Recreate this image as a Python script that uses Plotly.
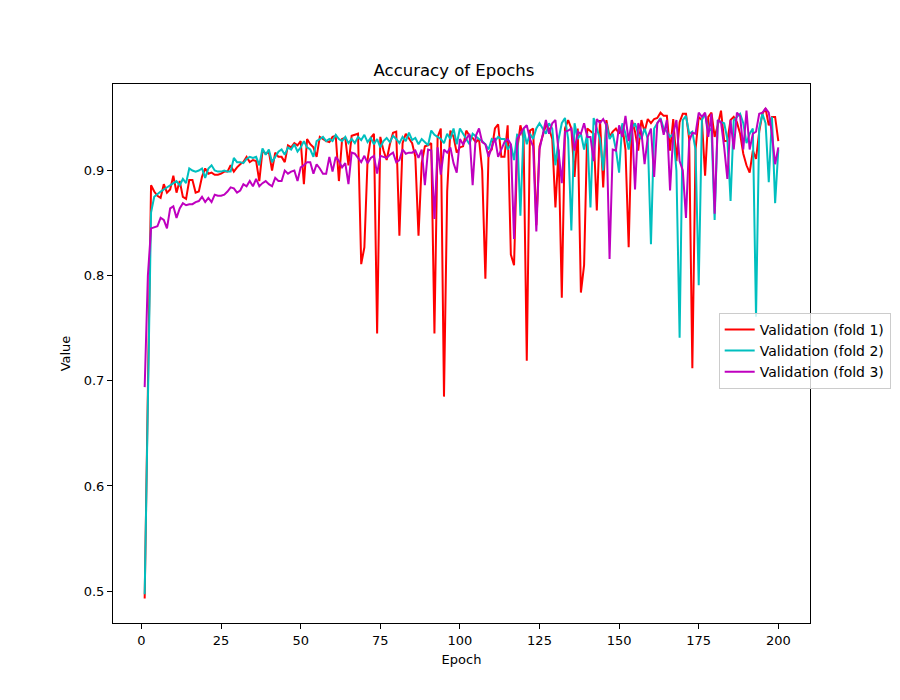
import plotly.graph_objects as go

epochs = list(range(1, 201))

fold1 = [
    0.493, 0.700, 0.886, 0.880, 0.876, 0.874, 0.887, 0.879, 0.882, 0.895,
    0.879, 0.890, 0.875, 0.873, 0.891, 0.891, 0.879, 0.880, 0.894, 0.902,
    0.897, 0.898, 0.896, 0.896, 0.897, 0.899, 0.899, 0.905, 0.899, 0.903,
    0.906, 0.908, 0.913, 0.908, 0.910, 0.909, 0.890, 0.919, 0.916, 0.918,
    0.900, 0.917, 0.913, 0.913, 0.908, 0.924, 0.922, 0.926, 0.924, 0.928,
    0.887, 0.930, 0.925, 0.922, 0.913, 0.932, 0.930, 0.928, 0.927, 0.932,
    0.933, 0.890, 0.930, 0.931, 0.905, 0.933, 0.934, 0.935, 0.811, 0.827,
    0.910, 0.931, 0.935, 0.745, 0.932, 0.919, 0.910, 0.925, 0.936, 0.937,
    0.838, 0.926, 0.935, 0.930, 0.926, 0.913, 0.838, 0.907, 0.923, 0.924,
    0.926, 0.745, 0.932, 0.940, 0.685, 0.880, 0.938, 0.932, 0.917, 0.922,
    0.923, 0.938, 0.933, 0.931, 0.927, 0.930, 0.900, 0.797, 0.917, 0.920,
    0.940, 0.944, 0.913, 0.913, 0.943, 0.820, 0.810, 0.920, 0.943, 0.930,
    0.719, 0.938, 0.940, 0.848, 0.923, 0.933, 0.943, 0.940, 0.930, 0.865,
    0.920, 0.779, 0.940, 0.948, 0.940, 0.894, 0.940, 0.784, 0.810, 0.940,
    0.937, 0.935, 0.862, 0.948, 0.884, 0.948, 0.932, 0.937, 0.940, 0.935,
    0.943, 0.920, 0.827, 0.948, 0.937, 0.919, 0.948, 0.937, 0.949, 0.945,
    0.949, 0.950, 0.955, 0.952, 0.952, 0.919, 0.949, 0.909, 0.946, 0.954,
    0.954, 0.930, 0.712, 0.920, 0.951, 0.948, 0.895, 0.951, 0.955, 0.932,
    0.943, 0.957, 0.928, 0.928, 0.948, 0.951, 0.946, 0.935, 0.916, 0.905,
    0.898, 0.919, 0.911, 0.937, 0.954, 0.959, 0.943, 0.951, 0.951, 0.928,
]

fold2 = [
    0.497, 0.700, 0.860, 0.875, 0.878, 0.880, 0.882, 0.884, 0.886, 0.888,
    0.890, 0.886, 0.892, 0.888, 0.902, 0.900, 0.899, 0.900, 0.902, 0.893,
    0.902, 0.905, 0.900, 0.899, 0.899, 0.900, 0.899, 0.899, 0.912, 0.908,
    0.908, 0.907, 0.911, 0.913, 0.912, 0.913, 0.905, 0.921, 0.915, 0.920,
    0.908, 0.913, 0.918, 0.920, 0.915, 0.922, 0.920, 0.925, 0.918, 0.922,
    0.928, 0.922, 0.920, 0.913, 0.928, 0.930, 0.932, 0.928, 0.930, 0.928,
    0.934, 0.930, 0.928, 0.932, 0.926, 0.930, 0.926, 0.932, 0.929, 0.934,
    0.927, 0.931, 0.925, 0.930, 0.922, 0.928, 0.931, 0.927, 0.933, 0.930,
    0.926, 0.932, 0.928, 0.936, 0.929, 0.931, 0.925, 0.930, 0.927, 0.924,
    0.938, 0.934, 0.932, 0.930, 0.926, 0.935, 0.930, 0.940, 0.925, 0.940,
    0.935, 0.930, 0.925, 0.935, 0.932, 0.930, 0.928, 0.925, 0.920, 0.930,
    0.928, 0.932, 0.930, 0.930, 0.920, 0.925, 0.910, 0.935, 0.857, 0.940,
    0.925, 0.935, 0.930, 0.940, 0.945, 0.940, 0.935, 0.945, 0.940, 0.905,
    0.930, 0.945, 0.950, 0.930, 0.843, 0.945, 0.930, 0.935, 0.920, 0.935,
    0.865, 0.950, 0.940, 0.930, 0.900, 0.945, 0.930, 0.935, 0.920, 0.898,
    0.945, 0.935, 0.920, 0.940, 0.945, 0.935, 0.930, 0.940, 0.930, 0.830,
    0.940, 0.945, 0.950, 0.940, 0.937, 0.932, 0.935, 0.900, 0.741, 0.948,
    0.952, 0.935, 0.937, 0.920, 0.791, 0.948, 0.954, 0.937, 0.940, 0.853,
    0.948, 0.946, 0.945, 0.930, 0.871, 0.948, 0.951, 0.954, 0.945, 0.926,
    0.935, 0.940, 0.761, 0.940, 0.954, 0.945, 0.889, 0.951, 0.869, 0.920,
]

fold3 = [
    0.694, 0.800, 0.845, 0.846, 0.847, 0.855, 0.853, 0.845, 0.864, 0.866,
    0.855, 0.864, 0.869, 0.867, 0.868, 0.868, 0.870, 0.871, 0.875, 0.870,
    0.874, 0.870, 0.877, 0.876, 0.876, 0.877, 0.880, 0.884, 0.883, 0.879,
    0.881, 0.887, 0.885, 0.890, 0.885, 0.892, 0.885, 0.888, 0.890, 0.887,
    0.885, 0.893, 0.890, 0.890, 0.900, 0.897, 0.899, 0.900, 0.890, 0.903,
    0.905, 0.908, 0.908, 0.897, 0.906, 0.902, 0.897, 0.897, 0.913, 0.899,
    0.913, 0.909, 0.903, 0.907, 0.887, 0.917, 0.916, 0.912, 0.908, 0.914,
    0.907, 0.912, 0.914, 0.897, 0.914, 0.913, 0.912, 0.915, 0.917, 0.908,
    0.910, 0.920, 0.916, 0.917, 0.917, 0.919, 0.912, 0.920, 0.886, 0.920,
    0.919, 0.854, 0.922, 0.896, 0.920, 0.917, 0.922, 0.907, 0.898, 0.930,
    0.925, 0.930, 0.935, 0.886, 0.933, 0.940, 0.927, 0.925, 0.913, 0.922,
    0.931, 0.913, 0.920, 0.927, 0.930, 0.925, 0.835, 0.930, 0.935, 0.940,
    0.943, 0.930, 0.923, 0.842, 0.920, 0.935, 0.948, 0.935, 0.945, 0.948,
    0.919, 0.888, 0.937, 0.938, 0.940, 0.919, 0.937, 0.935, 0.945, 0.932,
    0.932, 0.909, 0.949, 0.945, 0.949, 0.943, 0.816, 0.920, 0.919, 0.943,
    0.932, 0.952, 0.928, 0.948, 0.882, 0.945, 0.937, 0.906, 0.932, 0.940,
    0.894, 0.945, 0.949, 0.934, 0.948, 0.881, 0.935, 0.948, 0.909, 0.900,
    0.855, 0.928, 0.936, 0.935, 0.955, 0.951, 0.955, 0.932, 0.954, 0.859,
    0.948, 0.946, 0.922, 0.892, 0.948, 0.920, 0.955, 0.952, 0.920, 0.957,
    0.920, 0.935, 0.937, 0.954, 0.955, 0.959, 0.955, 0.935, 0.906, 0.922,
]

series_names = ["Validation (fold 1)", "Validation (fold 2)", "Validation (fold 3)"]
series_colors = ["#ff0000", "#00bfbf", "#bf00bf"]

fig = go.Figure()
for name, vals, col in zip(series_names, [fold1, fold2, fold3], series_colors):
    fig.add_trace(go.Scatter(x=epochs, y=vals, mode="lines", name=name,
                             line=dict(color=col, width=2)))

allv = fold1 + fold2 + fold3
ymin, ymax = min(allv), max(allv)
yspan = ymax - ymin
xmin, xmax = min(epochs), max(epochs)
xspan = xmax - xmin

font = "DejaVu Sans, sans-serif"
axis_common = dict(showline=True, mirror=True, linecolor="black", linewidth=1,
                   ticks="outside", ticklen=5, tickwidth=1, tickcolor="black",
                   showgrid=False, zeroline=False,
                   tickfont=dict(family=font, size=13, color="black"))

W, H = 892, 692
fig.update_layout(
    width=W, height=H,
    paper_bgcolor="white", plot_bgcolor="white",
    margin=dict(l=105, r=90, t=76, b=77, autoexpand=False),
    title=dict(text="Accuracy of Epochs", x=0.5, xanchor="center",
               y=1 - 62 / H, yanchor="middle",
               font=dict(family=font, size=16.5, color="black")),
    xaxis=dict(range=[xmin - 0.05 * xspan, xmax + 0.05 * xspan],
               tickvals=[0, 25, 50, 75, 100, 125, 150, 175, 200],
               title=dict(text="Epoch", font=dict(family=font, size=13, color="black"), standoff=8),
               **axis_common),
    yaxis=dict(range=[ymin - 0.05 * yspan, ymax + 0.05 * yspan],
               tickvals=[0.5, 0.6, 0.7, 0.8, 0.9],
               tickformat=".1f",
               title=dict(text="Value", font=dict(family=font, size=13, color="black"), standoff=10),
               **axis_common),
    legend=dict(x=0.869, y=0.505, xanchor="left", yanchor="middle",
                bgcolor="rgba(255,255,255,0.8)", bordercolor="#cccccc", borderwidth=1,
                font=dict(family=font, size=14, color="black"),
                tracegroupgap=0, itemwidth=30),
    showlegend=True,
)

fig.write_html("out.html")
